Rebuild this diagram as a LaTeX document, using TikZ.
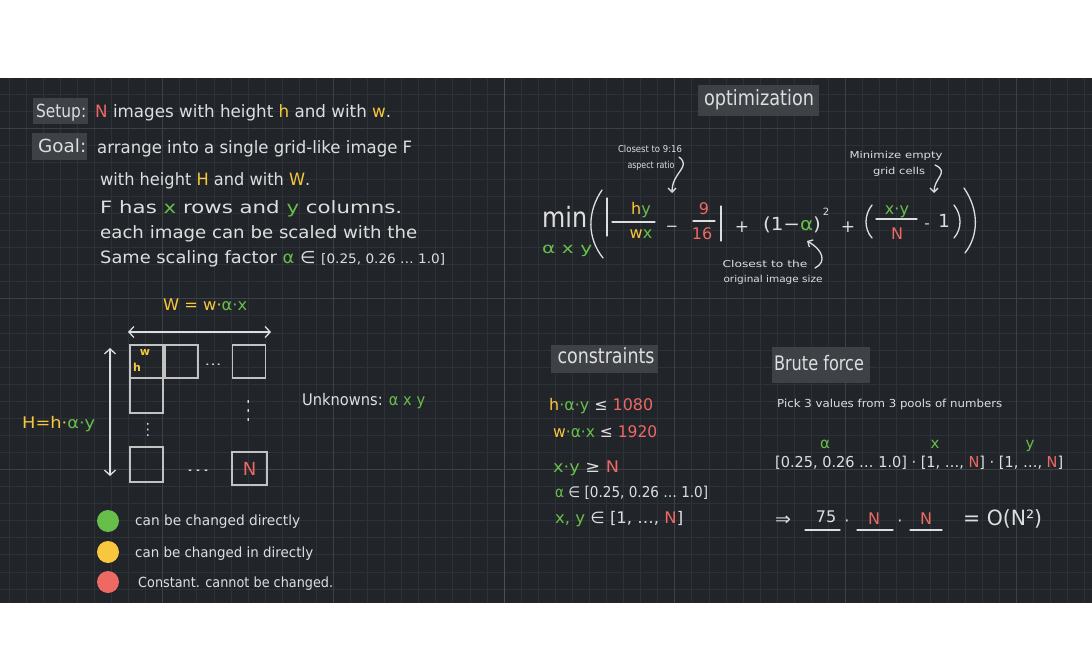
\documentclass[tikz,border=0pt]{standalone}
\usepackage{fontspec}
\setmainfont{DejaVu Sans}
\usepackage{graphicx}
\usetikzlibrary{arrows.meta}
\definecolor{bg}{RGB}{33,37,42}
\definecolor{gmin}{RGB}{45,50,56}
\definecolor{gmaj}{RGB}{60,65,72}
\definecolor{gctr}{RGB}{75,80,87}
\definecolor{hl}{RGB}{62,66,71}
\definecolor{wht}{RGB}{222,222,222}
\definecolor{ylw}{RGB}{249,199,62}
\definecolor{grn}{RGB}{104,190,74}
\definecolor{rd}{RGB}{238,104,100}
\newcommand\fsz[1]{\fontsize{#1}{#1}\selectfont}
\newcommand\sw[2]{\resizebox{#1pt}{\height}{#2}}
\newcommand\tY[1]{\textcolor{ylw}{#1}}
\newcommand\tG[1]{\textcolor{grn}{#1}}
\newcommand\tR[1]{\textcolor{rd}{#1}}
\tikzset{
  tw/.style={inner sep=0pt, anchor=mid west, text=wht, yshift=-3pt},
  tc/.style={inner sep=0pt, anchor=mid, text=wht, yshift=-2pt},
  pen/.style={draw=wht, line width=1.3pt, line cap=round, line join=round},
  arr/.style={pen, -{Straight Barb[length=4pt,width=8pt]}},
  darr/.style={pen, {Straight Barb[length=5pt,width=11pt]}-{Straight Barb[length=5pt,width=11pt]}},
  cell/.style={draw=wht!85!bg, line width=1.4pt, minimum width=33pt, minimum height=33pt, inner sep=0pt},
  dot/.style={circle, inner sep=0pt, minimum size=22pt}
}
\begin{document}
\begin{tikzpicture}[x=1pt,y=-1pt]
\useasboundingbox (0,0) rectangle (1092,668);
\fill[white] (0,0) rectangle (1092,668);
\fill[bg] (0,78) rectangle (1092,603);
% grid
\foreach \k in {-29,...,34} \draw[gmin, line width=0.6pt] ({504+17.07*\k},78) -- ({504+17.07*\k},603);
\foreach \k in {-2,...,27} \draw[gmin, line width=0.6pt] (0,{128+17.07*\k}) -- (1092,{128+17.07*\k});
\foreach \m in {-2,-1,1,2,3} \draw[gmaj, line width=0.7pt] ({504+170.7*\m},78) -- ({504+170.7*\m},603);
\foreach \m in {0,1,2} \draw[gmaj, line width=0.7pt] (0,{128+170.7*\m}) -- (1092,{128+170.7*\m});
\draw[gctr, line width=0.8pt] (504,78) -- (504,603);
% highlight boxes
\fill[hl] (33,98) rectangle (88,124);
\fill[hl] (32,133) rectangle (87,160);
\fill[hl] (698,85) rectangle (819,116);
\fill[hl] (551,345) rectangle (658,373);
\fill[hl] (772,347) rectangle (870,383);
% left text
\node[tw,font=\fsz{18}] (setup) at (36,112) {\sw{50}{Setup:}};
\node[tw,font=\fsz{17}] (l1) at (95,112) {\sw{296}{\tR{N} images with height \tY{h} and with \tY{w}.}};
\node[tw,font=\fsz{18}] (goal) at (38,147) {\sw{48}{Goal:}};
\node[tw,font=\fsz{17}] (l2) at (97,148) {\sw{315}{arrange into a single grid-like image F}};
\node[tw,font=\fsz{17}] (l3) at (100,180) {\sw{210}{with height \tY{H} and with \tY{W}.}};
\node[tw,font=\fsz{17}] (l4) at (100,208) {\sw{302}{F has \tG{x} rows and \tG{y} columns.}};
\node[tw,font=\fsz{17}] (l5) at (100,233) {\sw{317}{each image can be scaled with the}};
\node[tw,font=\fsz{17}] (l6) at (100,258) {\sw{345}{Same scaling factor \tG{α} ∈ {\fsz{13}[0.25, 0.26 … 1.0]}}};
% grid diagram
\node[tw,font=\fsz{16}] (Weq) at (163,305) {\sw{84}{\tY{W = w·}\tG{α·x}}};
\node[tw,font=\fsz{16}] (Heq) at (22,423) {\sw{73}{\tY{H=h·}\tG{α·y}}};
\coordinate (wa) at (128,332); \coordinate (wb) at (271,332);
\draw[darr] (wa) -- (wb);
\coordinate (ha) at (110,348); \coordinate (hb) at (110,476);
\draw[darr] (ha) -- (hb);
\node[cell] (c1) at (146.5,361.5) {};
\node[cell] (c2) at (181.5,361.5) {};
\node[cell] (c3) at (249,361.5) {};
\node[cell,minimum height=35pt] (c4) at (146.5,395.5) {};
\node[cell,minimum height=35pt] (c5) at (146.5,464.5) {};
\node[cell,minimum width=35pt,font=\fsz{18}] (c6) at (249.5,468.5) {\tR{N}};
\node[tc,font=\fsz{11}\bfseries] (cw) at (145,351) {\tY{w}};
\node[tc,font=\fsz{11}\bfseries] (ch) at (137,367) {\tY{h}};
\node[tc,font=\fsz{12}] (d1) at (213,361) {\sw{17}{…}};
\node[tc,font=\fsz{12}] (d2) at (198,467) {\sw{24}{…}};
\node[tc,font=\fsz{12},rotate=90] (d3) at (146,428) {\sw{17}{…}};
\node[tc,font=\fsz{12},rotate=90] (d4) at (247,409) {\sw{27}{…}};
\node[tw,font=\fsz{16}] (unk) at (302,400) {\sw{123}{Unknowns: \tG{α x y}}};
% legend
\node[dot,fill=grn] (lg1) at (108,521) {};
\node[dot,fill=ylw] (lg2) at (108,552) {};
\node[dot,fill=rd] (lg3) at (108,582) {};
\node[tw,font=\fsz{14}] (lt1) at (135,520) {\sw{165}{can be changed directly}};
\node[tw,font=\fsz{14}] (lt2) at (135,552) {\sw{178}{can be changed in directly}};
\node[tw,font=\fsz{14}] (lt3) at (138,582) {\sw{195}{Constant. cannot be changed.}};
% optimization
\node[tc,font=\fsz{21}] (opt) at (759,101) {\sw{110}{optimization}};
\node[tc,font=\fsz{9.5}] (a1) at (650,148) {\sw{64}{Closest to 9:16}};
\node[tc,font=\fsz{9.5}] (a2) at (651,164) {\sw{47}{aspect ratio}};
\coordinate (ar1s) at (679,157); \coordinate (ar1e) at (672,193);
\draw[arr] (ar1s) .. controls (692,167) and (672,172) .. (ar1e);
\node[tc,font=\fsz{9.5}] (b1) at (896,154) {\sw{93}{Minimize empty}};
\node[tc,font=\fsz{9.5}] (b2) at (899,170) {\sw{52}{grid cells}};
\coordinate (ar2s) at (935,165); \coordinate (ar2e) at (934,193);
\draw[arr] (ar2s) .. controls (950,172) and (934,178) .. (ar2e);
\node[tc,font=\fsz{9.5}] (e1) at (765,263) {\sw{85}{Closest to the}};
\node[tc,font=\fsz{9.5}] (e2) at (773,278) {\sw{99}{original image size}};
\coordinate (ar3s) at (815,268); \coordinate (ar3e) at (807,241);
\draw[arr] (ar3s) .. controls (827,262) and (823,250) .. (ar3e);
% formula
\node[tw,font=\fsz{28}] (min) at (542,222) {\sw{45}{min}};
\node[tw,font=\fsz{15}] (sub) at (542,248) {\sw{50}{\tG{α x y}}};
\draw[pen] (602,190) .. controls (587,212) and (587,238) .. (603,258);
\draw[pen] (607,198) -- (607,236);
\node[tc,font=\fsz{16}] (hy) at (641,210) {\tY{h}\tG{y}};
\node[tc,font=\fsz{16}] (wx) at (641,234) {\tY{w}\tG{x}};
\draw[pen] (612,222) -- (655,222);
\node[tc,font=\fsz{15}] (m1) at (672,227) {−};
\node[tc,font=\fsz{16}] (n9) at (704,210) {\tR{9}};
\node[tc,font=\fsz{16}] (n16) at (702,235) {\tR{16}};
\draw[pen] (693,221) -- (715,221);
\draw[pen] (721,206) -- (721,241);
\node[tc,font=\fsz{17}] (p1) at (742,228) {+};
\node[tc,font=\fsz{18}] (sq) at (792,226) {\sw{58}{(1−\tG{α})}};
\node[tc,font=\fsz{10}] (two) at (826,211) {2};
\node[tc,font=\fsz{17}] (p2) at (848,228) {+};
\draw[pen] (872,205) .. controls (864,215) and (864,229) .. (872,238);
\node[tc,font=\fsz{16}] (xy) at (897,210) {\tG{x·y}};
\node[tc,font=\fsz{16}] (nN) at (897,235) {\tR{N}};
\draw[pen] (876,219) -- (917,219);
\node[tc,font=\fsz{15}] (m2) at (927,224) {-};
\node[tc,font=\fsz{18}] (one) at (944,223) {1};
\draw[pen] (954,205) .. controls (962,215) and (962,229) .. (954,238);
\draw[pen] (964,188) .. controls (979,210) and (979,235) .. (965,253);
% constraints
\node[tc,font=\fsz{21}] (cons) at (606,359) {\sw{97}{constraints}};
\node[tw,font=\fsz{16}] (k1) at (549,405) {\sw{104}{\tY{h}\tG{·α·y} ≤ \tR{1080}}};
\node[tw,font=\fsz{16}] (k2) at (553,432) {\sw{104}{\tY{w}\tG{·α·x} ≤ \tR{1920}}};
\node[tw,font=\fsz{16}] (k3) at (553,467) {\sw{66}{\tG{x·y} ≥ \tR{N}}};
\node[tw,font=\fsz{15}] (k4) at (555,492) {\sw{153}{\tG{α} ∈ [0.25, 0.26 … 1.0]}};
\node[tw,font=\fsz{16}] (k5) at (555,518) {\sw{128}{\tG{x, y} ∈ [1, …, \tR{N}]}};
% brute force
\node[tc,font=\fsz{20}] (bf) at (819,366) {\sw{90}{Brute force}};
\node[tw,font=\fsz{11}] (pick) at (777,402) {\sw{225}{Pick 3 values from 3 pools of numbers}};
\node[tc,font=\fsz{15}] (la) at (825,444) {\tG{α}};
\node[tc,font=\fsz{15}] (lx) at (935,444) {\tG{x}};
\node[tc,font=\fsz{15}] (ly) at (1030,444) {\tG{y}};
\node[tw,font=\fsz{15}] (pools) at (775,462) {\sw{288}{[0.25, 0.26 … 1.0] · [1, …, \tR{N}] · [1, …, \tR{N}]}};
\node[tw,font=\fsz{18}] (imp) at (775,520) {\sw{16}{⇒}};
\node[tc,font=\fsz{16}] (n75) at (826,518) {75};
\node[tc,font=\fsz{16}] (dt1) at (847,522) {·};
\node[tc,font=\fsz{16}] (bN1) at (874,520) {\tR{N}};
\node[tc,font=\fsz{16}] (dt2) at (900,522) {·};
\node[tc,font=\fsz{16}] (bN2) at (926,520) {\tR{N}};
\draw[pen] (805,530) -- (840,530);
\draw[pen] (857,530) -- (893,530);
\draw[pen] (910,530) -- (942,530);
\node[tw,font=\fsz{21}] (onn) at (963,520) {\sw{79}{= O(N²)}};
\end{tikzpicture}
\end{document}
